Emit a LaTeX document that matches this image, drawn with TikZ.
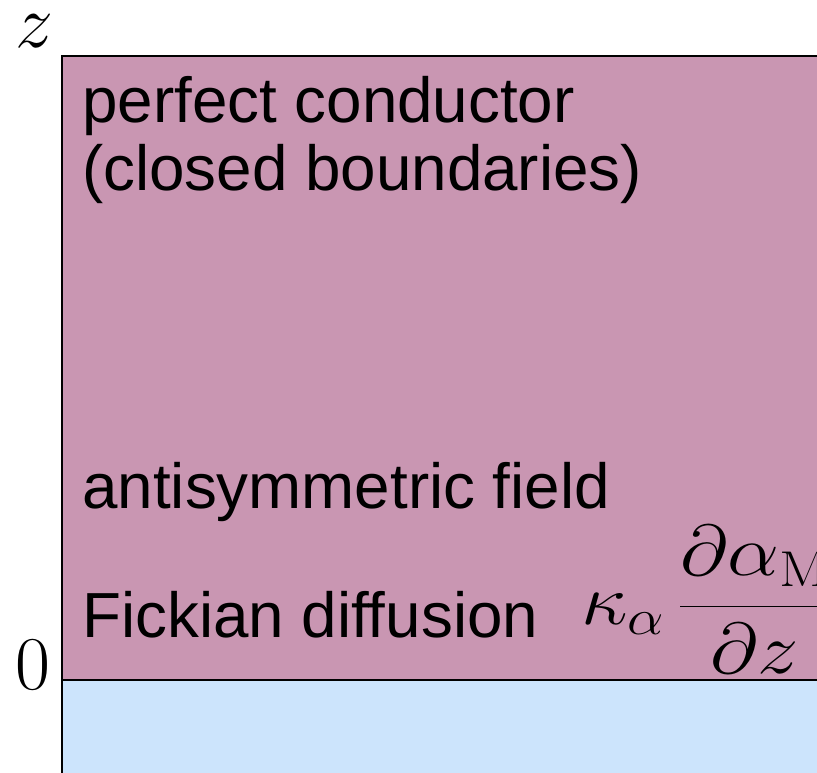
\RequirePackage{fix-cm}
\documentclass[tikz,border=0pt]{standalone}
\usepackage{fontspec}
\newfontfamily\labelfont{Liberation Sans}
\definecolor{upperlayer}{RGB}{201,150,178}
\definecolor{lowerlayer}{RGB}{204,228,252}
\tikzset{
  region/.style={draw=black, line width=0.8pt},
  sanslabel/.style={anchor=base west, inner sep=0pt, font=\labelfont\fontsize{47.8}{51}\selectfont},
  axislabel/.style={anchor=base, inner sep=0pt, font=\fontsize{57}{62}\selectfont},
  mathlabel/.style={inner sep=0pt, font=\fontsize{62}{68}\selectfont}
}
\begin{document}
\begin{tikzpicture}[x=0.75pt, y=-0.75pt]
  \useasboundingbox (0,0) rectangle (817,773);
  \clip (0,0) rectangle (817,773);
  % domain above and below z = 0
  \path[region, fill=upperlayer] (62,56) rectangle (830,680);
  \path[region, fill=lowerlayer] (62,680) rectangle (830,790);
  % axis labels
  \node[axislabel] (zlabel) at (34,48) {$z$};
  \node[axislabel] (zero) at (33,689) {$0$};
  % annotations
  \node[sanslabel, align=left] (top) at (82,191) {perfect conductor\\(closed boundaries)};
  \node[sanslabel] (anti) at (82,508) {antisymmetric field};
  \node[sanslabel] (fick) at (82,637) {Fickian diffusion};
  \node[mathlabel, anchor=base west] (flux) at (581,624)
    {\scalebox{1}[0.87]{$\displaystyle \kappa_\alpha\, \frac{\partial\alpha_{\mathrm{M}}}{\partial z}$}};
\end{tikzpicture}
\end{document}
